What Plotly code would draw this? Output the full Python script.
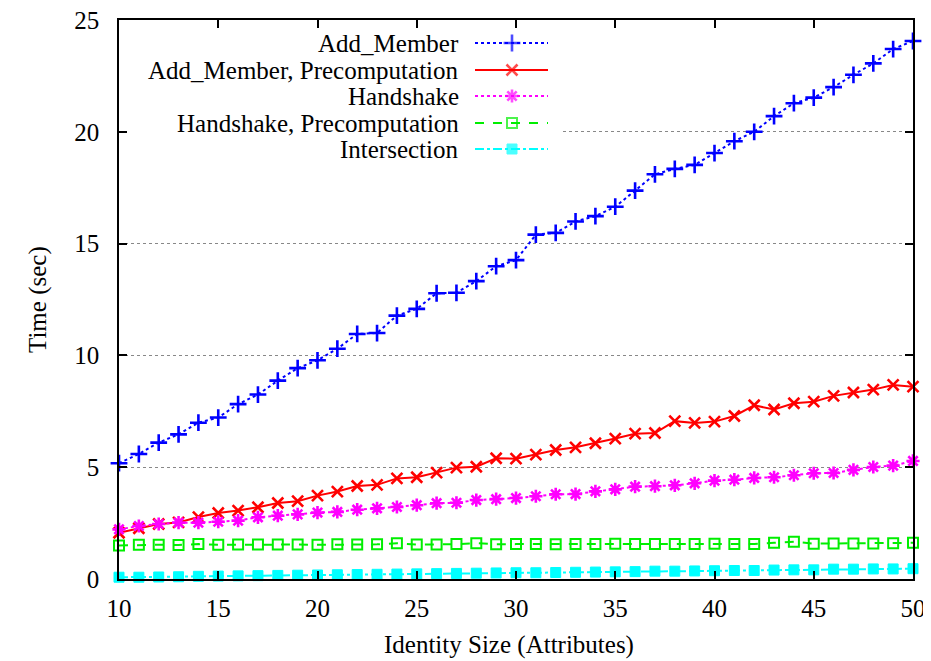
import plotly.graph_objects as go

x_vals = list(range(10, 51))

add_member = [5.18, 5.59, 6.10, 6.47, 6.99, 7.22, 7.82, 8.25, 8.87, 9.43, 9.78,
              10.30, 10.96, 11.00, 11.78, 12.08, 12.78, 12.80, 13.32, 13.99, 14.26,
              15.40, 15.48, 15.99, 16.23, 16.65, 17.37, 18.10, 18.34, 18.52, 19.05,
              19.58, 20.00, 20.70, 21.28, 21.53, 22.00, 22.55, 23.06, 23.70, 24.06]

add_member_pre = [2.07, 2.27, 2.46, 2.53, 2.77, 2.95, 3.06, 3.21, 3.40, 3.48, 3.73,
                  3.91, 4.16, 4.21, 4.50, 4.55, 4.76, 4.98, 5.02, 5.40, 5.38,
                  5.56, 5.77, 5.89, 6.07, 6.28, 6.50, 6.53, 7.06, 6.98, 7.04,
                  7.29, 7.77, 7.58, 7.86, 7.93, 8.19, 8.34, 8.47, 8.68, 8.60]

handshake = [2.22, 2.37, 2.46, 2.52, 2.52, 2.56, 2.61, 2.76, 2.83, 2.89, 2.97,
             3.00, 3.10, 3.16, 3.22, 3.30, 3.39, 3.41, 3.53, 3.57, 3.62,
             3.70, 3.79, 3.80, 3.92, 4.01, 4.13, 4.15, 4.19, 4.28, 4.40,
             4.44, 4.52, 4.55, 4.64, 4.73, 4.74, 4.88, 5.01, 5.07, 5.28]

handshake_pre = [1.50, 1.53, 1.53, 1.52, 1.56, 1.53, 1.54, 1.54, 1.54, 1.54, 1.53,
                 1.55, 1.54, 1.55, 1.60, 1.54, 1.54, 1.56, 1.60, 1.55, 1.56,
                 1.56, 1.55, 1.56, 1.56, 1.58, 1.56, 1.56, 1.56, 1.56, 1.58,
                 1.56, 1.57, 1.62, 1.67, 1.58, 1.59, 1.59, 1.59, 1.60, 1.62]

intersection = [0.08, 0.08, 0.09, 0.10, 0.12, 0.13, 0.14, 0.15, 0.16, 0.17, 0.18,
                0.19, 0.20, 0.21, 0.22, 0.23, 0.24, 0.25, 0.26, 0.27, 0.28,
                0.28, 0.29, 0.30, 0.31, 0.32, 0.33, 0.35, 0.35, 0.36, 0.37,
                0.38, 0.38, 0.40, 0.41, 0.41, 0.44, 0.44, 0.45, 0.45, 0.46]

series_names = ["Add_Member", "Add_Member, Precomputation", "Handshake",
                "Handshake, Precomputation", "Intersection"]
x_ticks = [10, 15, 20, 25, 30, 35, 40, 45, 50]
y_ticks = [0, 5, 10, 15, 20, 25]
x_title = "Identity Size (Attributes)"
y_title = "Time (sec)"

styles = [
    dict(color="#0000ff", dash="dot", symbol="cross-thin", size=12, lw=2, mlw=2.6),
    dict(color="#ff0000", dash="solid", symbol="x-thin", size=11, lw=2, mlw=2.6),
    dict(color="#ff00ff", dash="dot", symbol="asterisk-open", size=11, lw=2, mlw=2.6),
    dict(color="#00ee00", dash="dash", symbol="square-open", size=10, lw=2, mlw=2),
    dict(color="#00ffff", dash="dashdot", symbol="square", size=10, lw=2, mlw=1),
]
all_series = [add_member, add_member_pre, handshake, handshake_pre, intersection]

FONT = "Liberation Serif, Times New Roman, serif"
FS = 25
OFF = 8  # page body margin
W, H = 931 - OFF, 661 - OFF
# plot area in window pixels
L, R, T, B = 119, 913, 20, 579
X0, X1, Y0, Y1 = 10, 50, 0, 25


def px_to_x(p):
    return X0 + (p - L) * (X1 - X0) / (R - L)


def px_to_y(p):
    return Y0 + (B - p) * (Y1 - Y0) / (B - T)


def px_to_paper_x(p):
    return (p - L) / (R - L)


def px_to_paper_y(p):
    return (B - p) / (B - T)


fig = go.Figure()

for name, ys, st in zip(series_names, all_series, styles):
    fig.add_trace(go.Scatter(
        x=x_vals, y=ys, name=name, mode="lines+markers", showlegend=False,
        line=dict(color=st["color"], dash=st["dash"], width=st["lw"]),
        marker=dict(symbol=st["symbol"], size=st["size"], color=st["color"],
                    line=dict(color=st["color"], width=st["mlw"])),
        cliponaxis=False,
    ))

# gnuplot-style key: text right aligned, sample on the right
key_rows = [43, 70, 96, 123, 149]
for name, st, ry in zip(series_names, styles, key_rows):
    yy = px_to_y(ry)
    fig.add_trace(go.Scatter(
        x=[px_to_x(475), px_to_x(512), px_to_x(548)], y=[yy, yy, yy],
        mode="lines+markers", showlegend=False, hoverinfo="skip",
        line=dict(color=st["color"], dash=st["dash"], width=st["lw"]),
        marker=dict(symbol=st["symbol"], size=[0, st["size"], 0], color=st["color"],
                    line=dict(color=st["color"], width=st["mlw"])),
    ))
    fig.add_annotation(x=px_to_x(461), y=yy, text=name,
                       showarrow=False, xanchor="right", yanchor="middle",
                       font=dict(family=FONT, size=FS, color="black"))

# white key box hiding grid lines
fig.add_shape(type="rect", xref="x", yref="y", x0=px_to_x(121), x1=px_to_x(563),
              y0=px_to_y(165), y1=px_to_y(25),
              fillcolor="white", line=dict(width=0), layer="between")

# axis titles
fig.add_annotation(x=px_to_paper_x(509), y=px_to_paper_y(645), xref="paper", yref="paper",
                   text=x_title, showarrow=False, xanchor="center", yanchor="middle",
                   font=dict(family=FONT, size=FS, color="black"))
fig.add_annotation(x=px_to_paper_x(38), y=px_to_paper_y(300), xref="paper", yref="paper",
                   text=y_title, showarrow=False, xanchor="center", yanchor="middle",
                   textangle=-90, font=dict(family=FONT, size=FS, color="black"))

axis_common = dict(showline=True, linecolor="black", linewidth=1.5, mirror="allticks",
                   ticks="inside", ticklen=8, tickwidth=1.5, tickcolor="black",
                   tickfont=dict(family=FONT, size=FS, color="black"), zeroline=False,
                   automargin=False, ticklabeloverflow="allow")

fig.update_layout(
    width=W, height=H,
    margin=dict(l=L - OFF, r=W - (R - OFF), t=T - OFF, b=H - (B - OFF)),
    paper_bgcolor="white", plot_bgcolor="white",
    xaxis=dict(range=[X0, X1], tickvals=x_ticks, showgrid=False,
               ticklabelstandoff=6, **axis_common),
    yaxis=dict(range=[Y0, Y1], tickvals=y_ticks, showgrid=True, gridcolor="#888888",
               griddash="dot", gridwidth=1,
               ticklabelstandoff=13, **axis_common),
    showlegend=False,
)

fig.write_html("out.html")
